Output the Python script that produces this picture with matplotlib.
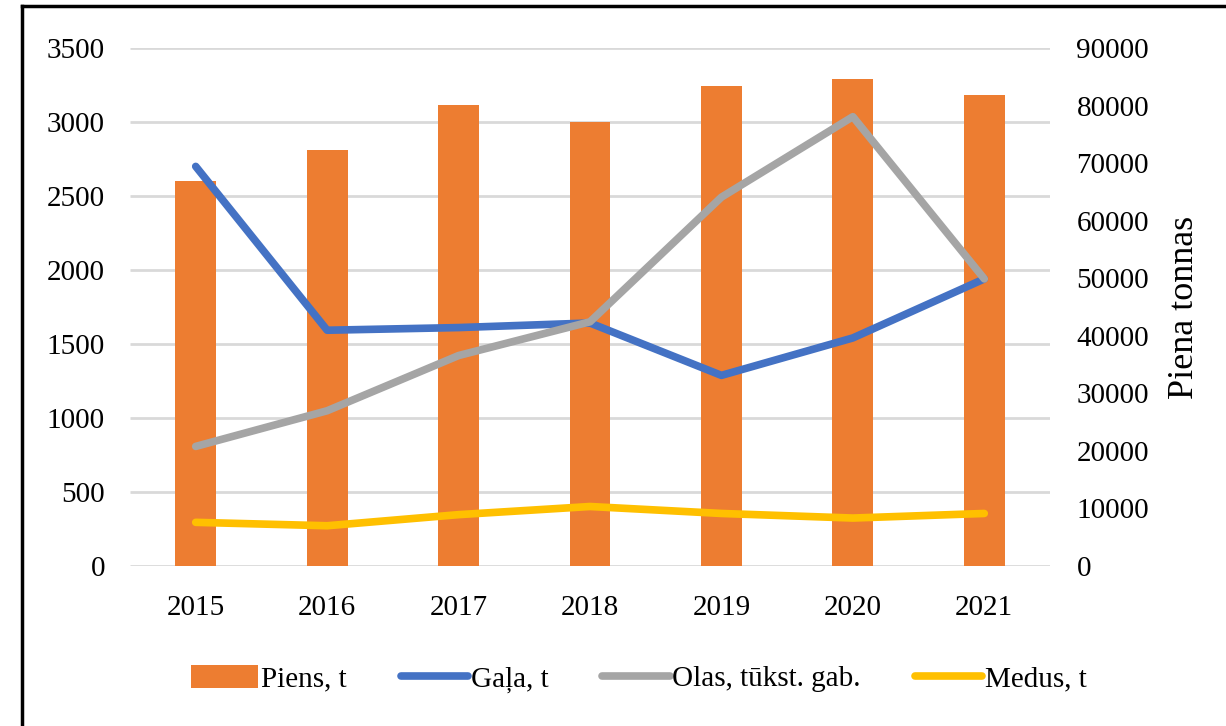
import matplotlib
matplotlib.use("Agg")
import matplotlib.pyplot as plt
from matplotlib.lines import Line2D
from matplotlib.patches import Patch
from matplotlib.transforms import blended_transform_factory
import numpy as np

plt.rcParams['font.family'] = ['Liberation Serif', 'DejaVu Serif']

years = ['2015', '2016', '2017', '2018', '2019', '2020', '2021']
piens = [66900, 72200, 80100, 77200, 83400, 84700, 81900]
gala = [2700, 1593, 1611, 1642, 1288, 1541, 1940]
olas = [808, 1049, 1422, 1650, 2492, 3036, 1940]
medus = [295, 272, 347, 402, 355, 324, 355]

left_ticks = [0, 500, 1000, 1500, 2000, 2500, 3000, 3500]
right_ticks = [0, 10000, 20000, 30000, 40000, 50000, 60000, 70000, 80000, 90000]

C_ORANGE = '#ED7D31'
C_BLUE = '#4472C4'
C_GRAY = '#A5A5A5'
C_YELLOW = '#FFC000'
C_GRID = '#D9D9D9'

W, H = 1226, 726
fig = plt.figure(figsize=(W / 100, H / 100), dpi=100)
fig.patch.set_facecolor('white')

ax = fig.add_axes([130 / W, 1 - 566 / H, 920 / W, 518 / H])
ax2 = ax.twinx()
ax.set_zorder(ax2.get_zorder() + 1)
ax.patch.set_visible(False)

x = np.arange(len(years))

# gridlines (left scale) behind bars
tr = blended_transform_factory(ax2.transAxes, ax.transData)
ax2.hlines(left_ticks, 0, 1, transform=tr, colors=C_GRID, linewidth=2, zorder=0)

ax2.bar(x, piens, width=0.31, color=C_ORANGE, zorder=2)
ax2.set_ylim(0, 90000)
ax2.set_yticks(right_ticks)
ax2.set_yticklabels([str(t) for t in right_ticks])

lw = 5.5
ax.plot(x, gala, color=C_BLUE, lw=lw, solid_capstyle='round', solid_joinstyle='round')
ax.plot(x, olas, color=C_GRAY, lw=lw, solid_capstyle='round', solid_joinstyle='round')
ax.plot(x, medus, color=C_YELLOW, lw=lw, solid_capstyle='round', solid_joinstyle='round')
ax.set_ylim(0, 3500)
ax.set_yticks(left_ticks)
ax.set_yticklabels([str(t) for t in left_ticks])
ax.set_xlim(-0.5, len(years) - 0.5)
ax.set_xticks(x)
ax.set_xticklabels(years)

fs = 21
for a in (ax, ax2):
    for s in a.spines.values():
        s.set_visible(False)
ax.tick_params(axis='y', length=0, pad=18, labelsize=fs)
ax.tick_params(axis='x', length=0, pad=21, labelsize=fs)
ax2.tick_params(axis='y', length=0, pad=19, labelsize=fs)

ax2.set_ylabel('Piena tonnas', fontsize=26, labelpad=14)

handles = [
    Patch(facecolor=C_ORANGE, edgecolor='none', label='Piens, t'),
    Line2D([0], [0], color=C_BLUE, lw=lw, solid_capstyle='round', label='Gaļa, t'),
    Line2D([0], [0], color=C_GRAY, lw=lw, solid_capstyle='round', label='Olas, tūkst. gab.'),
    Line2D([0], [0], color=C_YELLOW, lw=lw, solid_capstyle='round', label='Medus, t'),
]
fig.legend(handles=handles, loc='center', bbox_to_anchor=(639 / W, 1 - 679 / H),
           ncol=4, frameon=False, fontsize=fs, handlelength=2.3, handletextpad=0.1,
           columnspacing=1.85, handleheight=0.8)

# outer frame (left and top edges visible)
fig.add_artist(Line2D([22 / W, 22 / W], [0, 1 - 6 / H], color='black', lw=2.5,
                      transform=fig.transFigure))
fig.add_artist(Line2D([22 / W, 1], [1 - 6 / H, 1 - 6 / H], color='black', lw=2.5,
                      transform=fig.transFigure))

fig.savefig('out.png', dpi=100, facecolor='white')
